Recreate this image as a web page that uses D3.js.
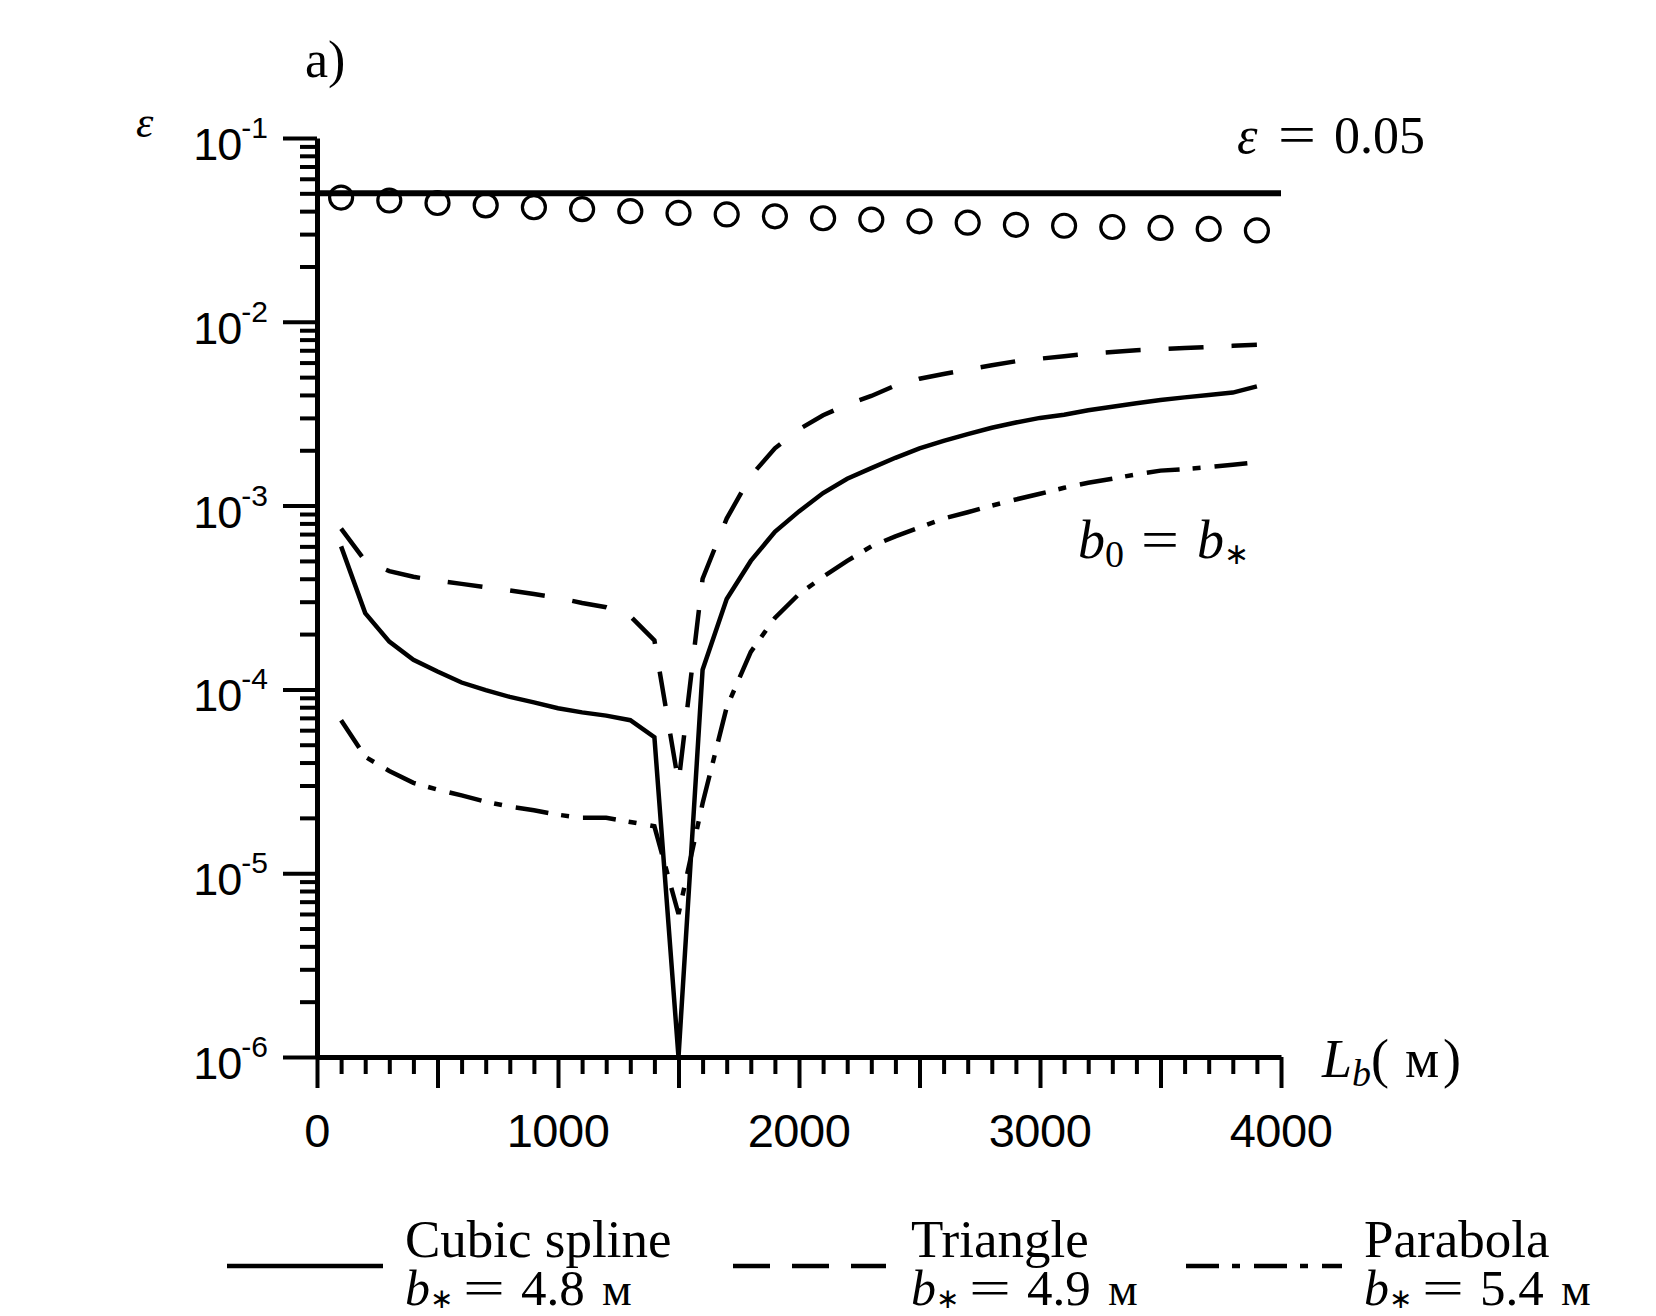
<!DOCTYPE html>
<html>
<head>
<meta charset="utf-8">
<script src="https://cdn.jsdelivr.net/npm/d3@7"></script>
<style>
  body { margin: 0; background: #fff; }
  svg { display: block; }
  .serif { font-family: "Liberation Serif", "Times New Roman", serif; fill: #000; }
  .sans { font-family: "Liberation Sans", Arial, sans-serif; fill: #000; }
</style>
</head>
<body>
<svg id="chart" width="1656" height="1316"></svg>
<script>
// L_b values (m)
var lb = [100, 200, 300, 400, 500, 600, 700, 800, 900, 1000, 1100, 1200, 1300, 1400, 1500,
          1600, 1700, 1800, 1900, 2000, 2100, 2200, 2300, 2400, 2500, 2600, 2700, 2800, 2900,
          3000, 3100, 3200, 3300, 3400, 3500, 3600, 3700, 3800, 3900];

// cubic spline, b* = 4.8
var cubicSpline = [6.0e-4, 2.6e-4, 1.82e-4, 1.45e-4, 1.25e-4, 1.09e-4, 9.9e-5, 9.1e-5, 8.5e-5, 7.9e-5,
                   7.5e-5, 7.2e-5, 6.8e-5, 5.5e-5, 1.0e-6,
                   1.28e-4, 3.1e-4, 5.0e-4, 7.2e-4, 9.3e-4, 1.17e-3, 1.4e-3, 1.6e-3, 1.82e-3, 2.05e-3,
                   2.25e-3, 2.45e-3, 2.65e-3, 2.83e-3, 3.0e-3, 3.12e-3, 3.3e-3, 3.45e-3, 3.6e-3, 3.75e-3,
                   3.88e-3, 4.0e-3, 4.12e-3, 4.45e-3];

// triangle, b* = 4.9
var triangle = [7.5e-4, 5.0e-4, 4.4e-4, 4.1e-4, 3.9e-4, 3.75e-4, 3.6e-4, 3.45e-4, 3.3e-4, 3.15e-4,
                2.95e-4, 2.8e-4, 2.5e-4, 1.85e-4, 3.1e-5,
                4.0e-4, 8.5e-4, 1.45e-3, 2.05e-3, 2.6e-3, 3.1e-3, 3.55e-3, 3.95e-3, 4.5e-3, 4.9e-3,
                5.2e-3, 5.5e-3, 5.8e-3, 6.1e-3, 6.3e-3, 6.5e-3, 6.7e-3, 6.85e-3, 7.0e-3, 7.1e-3,
                7.2e-3, 7.3e-3, 7.4e-3, 7.5e-3];

// parabola, b* = 5.4
var parabola = [6.8e-5, 4.3e-5, 3.6e-5, 3.1e-5, 2.85e-5, 2.65e-5, 2.45e-5, 2.3e-5, 2.2e-5, 2.08e-5,
                2.0e-5, 2.0e-5, 1.9e-5, 1.8e-5, 6.0e-6,
                2.4e-5, 8.0e-5, 1.6e-4, 2.45e-4, 3.3e-4, 4.1e-4, 5.0e-4, 6.0e-4, 6.8e-4, 7.6e-4,
                8.5e-4, 9.2e-4, 1.0e-3, 1.08e-3, 1.16e-3, 1.25e-3, 1.33e-3, 1.4e-3, 1.48e-3, 1.55e-3,
                1.58e-3, 1.62e-3, 1.67e-3, 1.72e-3];

// circles (b0 = b*)
var circleLb = [100, 300, 500, 700, 900, 1100, 1300, 1500, 1700, 1900,
                2100, 2300, 2500, 2700, 2900, 3100, 3300, 3500, 3700, 3900];
var circleEps = [0.0474, 0.0457, 0.0443, 0.0430, 0.0420, 0.0410, 0.0400, 0.0391, 0.0384, 0.0375,
                 0.0366, 0.0360, 0.0352, 0.0346, 0.0337, 0.0333, 0.0328, 0.0324, 0.0320, 0.0314];

// threshold line eps = 0.05
var threshLb = [0, 4000];
var threshEps = [0.05, 0.05];

var xTickLabels = [0, 1000, 2000, 3000, 4000];
var yTickExps = [-1, -2, -3, -4, -5, -6];

var svg = d3.select("#chart");

var x = d3.scaleLinear().domain([0, 4000]).range([317, 1281]);
var y = d3.scaleLog().domain([1e-6, 1e-1]).range([1057, 138]);

// y axis with minor ticks
var yTicks = [];
for (var k = -6; k <= -2; k++) {
  for (var m = 1; m <= 9; m++) yTicks.push(m * Math.pow(10, k));
}
yTicks.push(0.1);

var yAxis = svg.append("g")
  .attr("transform", "translate(317,0)")
  .call(d3.axisLeft(y).tickValues(yTicks).tickSizeOuter(0).tickFormat(""));
yAxis.select(".domain").attr("stroke-width", 5);
yAxis.selectAll(".tick line")
  .attr("stroke-width", 4)
  .attr("x2", function(d) {
    var l = Math.log10(d);
    return Math.abs(l - Math.round(l)) < 1e-9 ? -34 : -17;
  });

// x axis
var xTicks = d3.range(0, 4001, 100);
var xAxis = svg.append("g")
  .attr("transform", "translate(0,1057)")
  .call(d3.axisBottom(x).tickValues(xTicks).tickSizeOuter(0).tickFormat(""));
xAxis.select(".domain").attr("stroke-width", 5);
xAxis.selectAll(".tick line")
  .attr("stroke-width", 4)
  .attr("y2", function(d) { return d % 500 === 0 ? 31 : 17; });

// tick labels
svg.selectAll(".xlab").data(xTickLabels).enter().append("text")
  .attr("class", "sans xlab")
  .attr("x", function(d) { return x(d); })
  .attr("y", 1147)
  .attr("text-anchor", "middle")
  .style("font-size", "47px")
  .style("letter-spacing", "-0.5px")
  .text(function(d) { return d; });

var ylab = svg.selectAll(".ylab").data(yTickExps).enter().append("text")
  .attr("class", "sans ylab")
  .attr("x", 268)
  .attr("y", function(d) { return y(Math.pow(10, d)) + 22; })
  .attr("text-anchor", "end");
ylab.append("tspan").style("font-size", "45px").style("letter-spacing", "-1px").text("10");
ylab.append("tspan").attr("dy", -22).style("font-size", "30px").text(function(d) { return "-" + (-d); });

// lines
var line = function(xs, ys) {
  return d3.line().x(function(d, i) { return x(xs[i]); }).y(function(d, i) { return y(ys[i]); })(ys);
};

svg.append("path").attr("d", line(threshLb, threshEps))
  .attr("fill", "none").attr("stroke", "#000").attr("stroke-width", 6);

svg.append("path").attr("d", line(lb, cubicSpline))
  .attr("fill", "none").attr("stroke", "#000").attr("stroke-width", 4.5);
svg.append("path").attr("d", line(lb, triangle))
  .attr("fill", "none").attr("stroke", "#000").attr("stroke-width", 4.5)
  .attr("stroke-dasharray", "35,28");
svg.append("path").attr("d", line(lb, parabola))
  .attr("fill", "none").attr("stroke", "#000").attr("stroke-width", 4.5)
  .attr("stroke-dasharray", "33,13,8,14");

svg.selectAll(".circ").data(circleEps).enter().append("circle")
  .attr("class", "circ")
  .attr("cx", function(d, i) { return x(circleLb[i]); })
  .attr("cy", function(d) { return y(d); })
  .attr("r", 11.5)
  .attr("fill", "none").attr("stroke", "#000").attr("stroke-width", 3.2);

// stretched "=" sign, closer to the TeX look
function eqSign(xp, yp, w, size) {
  svg.append("text").attr("class", "serif")
    .attr("x", xp).attr("y", yp)
    .attr("textLength", w).attr("lengthAdjust", "spacingAndGlyphs")
    .style("font-size", size + "px").text("=");
}

// annotations
svg.append("text").attr("class", "serif").attr("x", 305).attr("y", 77)
  .style("font-size", "52px").text("a)");
svg.append("text").attr("class", "serif").attr("x", 136).attr("y", 137)
  .style("font-size", "44px").style("font-style", "italic").text("ε");

svg.append("text").attr("class", "serif").attr("x", 1237).attr("y", 153)
  .style("font-size", "52px").style("font-style", "italic").text("ε");
eqSign(1278, 153, 38, 54);
svg.append("text").attr("class", "serif").attr("x", 1334).attr("y", 153)
  .style("font-size", "52px").text("0.05");

// b0 = b*
var t0 = svg.append("text").attr("class", "serif").attr("x", 1078).attr("y", 558).style("font-size", "54px");
t0.append("tspan").style("font-style", "italic").text("b");
t0.append("tspan").attr("dy", 9).style("font-size", "38px").text("0");
eqSign(1141, 558, 38, 54);
var t1 = svg.append("text").attr("class", "serif").attr("x", 1197).attr("y", 558).style("font-size", "54px");
t1.append("tspan").style("font-style", "italic").text("b");
t1.append("tspan").attr("dy", 6).style("font-size", "30px").text("∗");

// L_b ( м )
var tl = svg.append("text").attr("class", "serif").attr("x", 1322).attr("y", 1077).style("font-size", "54px");
tl.append("tspan").style("font-style", "italic").text("L");
tl.append("tspan").attr("dy", 9).style("font-size", "38px").style("font-style", "italic").text("b");
tl.append("tspan").attr("dy", -9).text("(");
tl.append("tspan").attr("x", 1405).text("м");
tl.append("tspan").attr("x", 1443).text(")");

// legend
var legNames = ["Cubic spline", "Triangle", "Parabola"];
var legB = ["4.8", "4.9", "5.4"];
var legDash = ["none", "37,22", "33,13,8,14"];
var legX0 = [227, 733, 1186];
var legX1 = [383, 886, 1342];
var legTx = [405, 911, 1364];

legNames.forEach(function(name, i) {
  svg.append("line")
    .attr("x1", legX0[i]).attr("x2", legX1[i])
    .attr("y1", 1266).attr("y2", 1266)
    .attr("stroke", "#000").attr("stroke-width", 4.5)
    .attr("stroke-dasharray", legDash[i]);
  svg.append("text").attr("class", "serif")
    .attr("x", legTx[i]).attr("y", 1257)
    .style("font-size", "53px").text(name);
  var t = svg.append("text").attr("class", "serif").attr("x", legTx[i]).attr("y", 1305).style("font-size", "50px");
  t.append("tspan").style("font-style", "italic").text("b");
  t.append("tspan").attr("dy", 3).style("font-size", "28px").text("∗");
  eqSign(legTx[i] + 58, 1305, 42, 50);
  svg.append("text").attr("class", "serif")
    .attr("x", legTx[i] + 116).attr("y", 1305)
    .style("font-size", "51px").text(legB[i]);
  svg.append("text").attr("class", "serif")
    .attr("x", legTx[i] + 197).attr("y", 1305)
    .style("font-size", "47px").text("м");
});
</script>
</body>
</html>
